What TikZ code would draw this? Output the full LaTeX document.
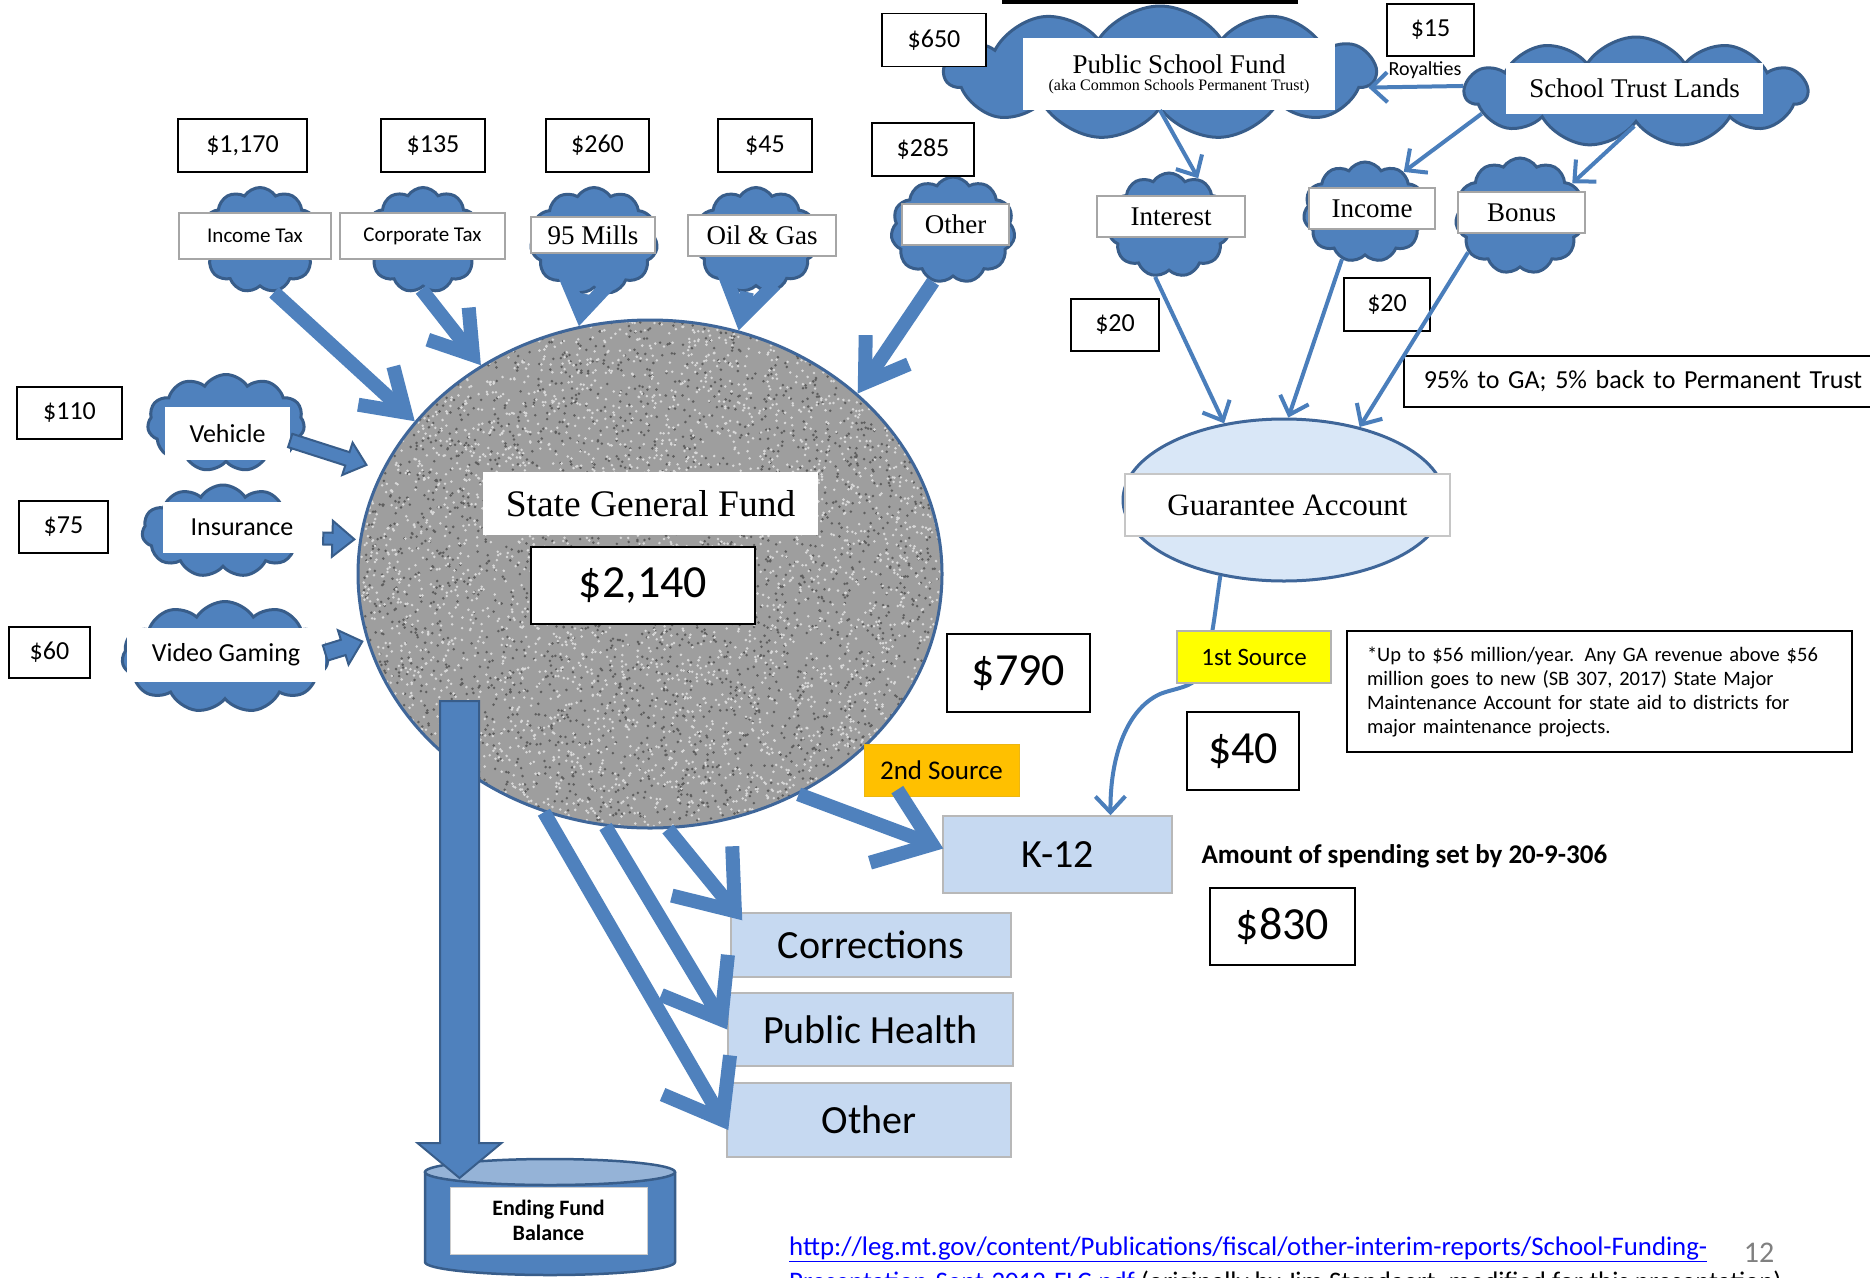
\documentclass[tikz,border=0pt]{standalone}
\usepackage{fontspec}
\setmainfont{Liberation Serif}
\newfontfamily\calib{Carlito}
\usetikzlibrary{shapes.symbols,shapes.geometric,arrows.meta,calc}
\definecolor{cblue}{HTML}{4F81BD}
\definecolor{cdark}{HTML}{385D8A}
\definecolor{lineblue}{HTML}{4A7EBB}
\definecolor{boxblue}{HTML}{C6D9F1}
\definecolor{boxgray}{HTML}{A6A6A6}
\definecolor{gablue}{HTML}{D9E7F7}
\definecolor{sgfrim}{HTML}{3F6699}
\definecolor{srcorange}{HTML}{FFC000}
\definecolor{srcyellow}{HTML}{FFFF00}
\definecolor{urlblue}{HTML}{0000FF}
\definecolor{sgfgray}{HTML}{9E9E9E}
\definecolor{speckdark}{HTML}{5E5E5E}
\definecolor{specklight}{HTML}{D8D8D8}
\definecolor{toplight}{HTML}{95B3D7}
\newcommand\fsz[2]{\fontsize{#1}{#2}\selectfont}
\newcommand\fatarrow[5]{%
  \coordinate (fab) at ($(#2)!#5!(#1)$);
  \draw[fat] ($(#1)!#3!90:(#2)$) -- ($(fab)!#3!90:(#2)$) -- ($(fab)!#4!90:(#2)$) -- (#2)
    -- ($(fab)!#4!-90:(#2)$) -- ($(fab)!#3!-90:(#2)$) -- ($(#1)!#3!-90:(#2)$) -- cycle;}
\begin{document}
\begin{tikzpicture}[x=1pt,y=-1pt,
  cloudn/.style={cloud, cloud puffs=11, cloud puff arc=115, cloud ignores aspect, draw=cdark, fill=cblue, line width=3pt, inner sep=0pt},
  sz/.style 2 args={minimum width=#1pt, minimum height=#2pt, inner sep=0pt},
  val/.style={draw=black, fill=white, line width=1.5pt, font=\calib\fsz{26}{30}},
  bigval/.style={draw=black, fill=white, line width=1.5pt, font=\calib\fsz{46}{50}},
  lab/.style={draw=boxgray, fill=white, line width=1.5pt},
  labsans/.style={lab, font=\calib\fsz{21}{25}},
  labserif/.style={lab, font=\fsz{27}{30}},
  dest/.style={draw=boxgray!80, fill=boxblue, line width=1.5pt, font=\calib\fsz{40}{44}},
  srcarrow/.style={draw=cblue, line width=14pt, -{Straight Barb[length=40pt,width=52pt]}},
  outarrow/.style={draw=cblue, line width=14pt, -{Straight Barb[length=52pt,width=78pt]}},
  thinarr/.style={draw=lineblue, line width=4pt, -{Straight Barb[length=16pt,width=30pt]}},
  fat/.style={fill=cblue, draw=cdark, line width=2pt, line join=miter},
]
\useasboundingbox (0,0) rectangle (1870,1277);
\fill[white] (0,0) rectangle (1870,1277);
\fill[black] (1002,0) rectangle (1298,4);

% State General Fund
\begin{scope}
  \clip (650,574) ellipse [x radius=292, y radius=254];
  \fill[sgfgray] (350,315) rectangle (950,835);
  \pgfmathsetseed{42}
  \foreach \i in {1,...,3000}{\fill[speckdark] (650+292*rand,574+254*rand) circle (1.4);}
  \foreach \i in {1,...,4000}{\fill[specklight] (650+292*rand,574+254*rand) circle (1.4);}
\end{scope}
\node[ellipse, draw=sgfrim, line width=3pt, sz={584}{508}] (sgf) at (650,574) {};
\node[fill=white, sz={335}{63}, font=\fsz{37.5}{40}] (sgfl) at (650.5,503.5) {State General Fund};
\node[bigval, sz={224}{77}] (v2140) at (643,585.5) {\$2,140};

% Guarantee Account
\node[ellipse, draw=sgfrim, fill=gablue, line width=3pt, sz={322}{162}] (ga) at (1284,500) {};
\node[lab, draw=gray!45, sz={325}{62}, font=\fsz{31}{34}] (gal) at (1287.5,505) {Guarantee Account};

% top right clouds
\node[cloudn, sz={430}{134}] (psf) at (1160,73) {};
\node[fill=white, sz={312}{72}, align=center] (psfl) at (1179,74) {{\fsz{27}{30}Public School Fund}\\[5pt]{\fsz{16}{18}(aka Common Schools Permanent Trust)}};
\node[cloudn, sz={342}{110}] (stl) at (1636,92) {};
\node[fill=white, sz={257}{51}, font=\fsz{27}{30}] (stll) at (1634.5,88.5) {School Trust Lands};
\node[val, sz={104}{53}] (v650) at (934,40) {\$650};
\node[val, sz={87}{52}] (v15) at (1430.5,30) {\$15};
\node[font=\calib\fsz{20}{24}] (roy) at (1425,70) {Royalties};

\node[cloudn, sz={122}{104}] (intc) at (1169,225) {};
\node[labserif, sz={148}{41}] (intl) at (1171,216.5) {Interest};
\node[cloudn, sz={123}{100}] (incc) at (1365,212) {};
\node[labserif, sz={126}{41}] (incl) at (1372,208.5) {Income};
\node[cloudn, sz={129}{116}] (bonc) at (1520,216) {};
\node[labserif, sz={127}{41}] (bonl) at (1521.5,212.5) {Bonus};

\node[val, sz={88}{52}] (v20a) at (1115,325) {\$20};
\node[val, sz={86}{53}] (v20b) at (1387,304.5) {\$20};
\node[draw=black, fill=white, line width=1.5pt, anchor=west, minimum height=51pt, text width=440pt, inner xsep=20pt, inner ysep=0pt, align=left, font=\calib\fsz{26}{30}] (pct) at (1403,381.5) {95\% to GA; 5\% back to Permanent Trust};

% top sources
\node[cloudn, sz={120}{105}] (itc) at (260,240) {};
\node[labsans, sz={152}{46}] (itl) at (255,236) {Income Tax};
\node[cloudn, sz={117}{105}] (ctc) at (423,240) {};
\node[labsans, sz={165}{46}] (ctl) at (422.5,236) {Corporate Tax};
\node[cloudn, sz={127}{107}] (mlc) at (594,241) {};
\node[labserif, sz={124}{36}] (mll) at (593,235) {95 Mills};
\node[cloudn, sz={123}{105}] (olc) at (756,240) {};
\node[labserif, sz={148}{41}] (oll) at (762,235.5) {Oil \& Gas};
\node[cloudn, sz={124}{106}] (otc) at (953,230) {};
\node[labserif, sz={107}{41}] (otl) at (955.5,224.5) {Other};

\node[val, sz={129}{53}] (v1170) at (242.5,145.5) {\$1,170};
\node[val, sz={104}{53}] (v135) at (433,145.5) {\$135};
\node[val, sz={103}{53}] (v260) at (597.5,145.5) {\$260};
\node[val, sz={94}{53}] (v45) at (765,145.5) {\$45};
\node[val, sz={102}{53}] (v285) at (923,149.5) {\$285};

% left sources
\node[cloudn, sz={157}{97}] (vehc) at (226,423) {};
\node[fill=white, sz={125}{53}, font=\calib\fsz{26}{30}] (vehl) at (227.5,433.5) {Vehicle};
\node[cloudn, sz={162}{92}] (insc) at (223,531) {};
\node[fill=white, sz={158}{51}, font=\calib\fsz{26}{30}] (insl) at (242,527.5) {Insurance};
\node[cloudn, sz={206}{111}] (vgc) at (225,657) {};
\node[fill=white, sz={198}{54}, font=\calib\fsz{26}{30}] (vgl) at (226,655) {Video Gaming};
\node[val, sz={105}{52}] (v110) at (69.5,413) {\$110};
\node[val, sz={89}{52}] (v75) at (63.5,527) {\$75};
\node[val, sz={81}{51}] (v60) at (49.5,652.5) {\$60};

% destinations
\node[bigval, sz={143}{78}] (v790) at (1018.5,673) {\$790};
\node[fill=srcorange, draw=srcorange!85!gray, line width=1pt, sz={155}{52}, font=\calib\fsz{27}{30}] (src2) at (941.5,770) {2nd Source};
\node[bigval, sz={112}{78}] (v40) at (1243,751) {\$40};
\node[draw=black, fill=white, line width=1.5pt, sz={505}{121}, text width=465pt, align=left, font=\calib\fsz{20.5}{24}] (note) at (1599.5,691.5) {*Up to \$56 million/year. Any GA revenue above \$56\\million goes to new (SB 307, 2017) State Major\\Maintenance Account for state aid to districts for\\major maintenance projects.};
\node[dest, sz={229}{77}] (k12) at (1057.5,854.5) {K-12};
\node[anchor=west, font=\calib\bfseries\fsz{27}{30}] (amt) at (1198,856) {Amount of spending set by 20-9-306};
\node[bigval, sz={145}{77}] (v830) at (1282.5,926.5) {\$830};
\node[dest, sz={280}{64}] (cor) at (871,945) {Corrections};
\node[dest, sz={285}{73}] (ph) at (870.5,1029.5) {Public Health};
\node[dest, sz={284}{74}] (oth) at (869,1120) {Other};

% Ending fund balance cylinder
\fill[cblue] (425,1172) rectangle (675,1262);
\fill[cblue] (550,1262) ellipse [x radius=125, y radius=13];
\draw[cdark, line width=2.5pt] (425,1172) -- (425,1262) arc[start angle=180, end angle=0, x radius=125, y radius=13] -- (675,1172);
\draw[cdark, fill=toplight, line width=2.5pt] (550,1172) ellipse [x radius=125, y radius=13];
\node[fill=white, draw=gray!40, line width=1pt, sz={197}{67}, align=center, font=\calib\bfseries\fsz{22}{25}] (efb) at (548.5,1220.5) {Ending Fund\\Balance};

% thick source arrows
\draw[srcarrow] (itc.-75) -- (sgf.147.8);
\draw[srcarrow] (ctc.-92) -- (sgf.129.1);
\draw[srcarrow] (mlc.-100) -- (sgf.106.2);
\draw[srcarrow] (olc.-100) -- (sgf.70.6);
\draw[srcarrow] (otc.-111) -- (sgf.41.8);

% outflow arrows
\draw[outarrow] (sgf.274.6) -- ([shift={(12,8)}]cor.north west);
\draw[outarrow] (sgf.260.5) -- (ph.west);
\draw[outarrow] (sgf.246.4) -- ([shift={(2,10)}]oth.west);
\draw[outarrow] (sgf.304.6) -- ([shift={(1,-6)}]k12.west);

% fat arrows
\coordinate (vehA) at ([shift={(0,7)}]vehl.east);
\coordinate (vehB) at ([shift={(-15,-6)}]sgf.159.3);
\fatarrow{vehA}{vehB}{7pt}{17pt}{20pt}
\coordinate (insA) at ([shift={(2,11)}]insl.east);
\coordinate (insB) at ([shift={(-5,1)}]sgf.173);
\fatarrow{insA}{insB}{6pt}{18pt}{22pt}
\coordinate (vgA) at ([shift={(0,-2)}]vgl.east);
\coordinate (vgB) at ([shift={(-4,2)}]sgf.193.3);
\fatarrow{vgA}{vgB}{8pt}{18pt}{20pt}
\coordinate (efTop) at (459.5,701);
\coordinate (efTip) at (459.5,1178);
\fatarrow{efTop}{efTip}{19.5pt}{42pt}{35pt}

% thin arrows
\draw[thinarr] (stl.178) -- (psf.-4);
\draw[thinarr] (stl.188.3) -- (incc.46.7);
\draw[thinarr] (stl.-93) -- (bonc.32.7);
\draw[thinarr] (psf.-90) -- (intc.58);
\draw[thinarr] (intc.-105) -- (ga.128.8);
\draw[thinarr] (incc.-116) -- (ga.87.2);
\draw[thinarr] (bonc.215) -- (ga.44.2);
\coordinate (k12tip) at ($(k12.north west)!0.73!(k12.north east)$);
\draw[thinarr] (ga.-130) .. controls (1215,610) and (1212,650) .. (1200,675)
  .. controls (1192,688) and (1175,688) .. (1160,694)
  .. controls (1125,710) and (1110,760) .. (k12tip);
\node[fill=srcyellow, draw=gray!60, line width=1.5pt, sz={154}{52}, font=\calib\fsz{25}{28}] (src1) at (1254,657) {1st Source};

% footer
\node[anchor=base west, inner sep=0pt, font=\calib\fsz{26.8}{30}, text=urlblue] (url) at (789,1255) {\underline{http://leg.mt.gov/content/Publications/fiscal/other-interim-reports/School-Funding-}};
\node[anchor=base west, inner sep=0pt, font=\calib\fsz{26.8}{30}] (url2) at (789,1290) {\textcolor{urlblue}{\underline{Presentation-Sept-2012-FLC.pdf}} (originally by Jim Standaert; modified for this presentation)};
\node[anchor=base, inner sep=0pt, font=\calib\fsz{30}{34}, text=gray] (pg) at (1759,1262) {12};
\end{tikzpicture}
\end{document}
